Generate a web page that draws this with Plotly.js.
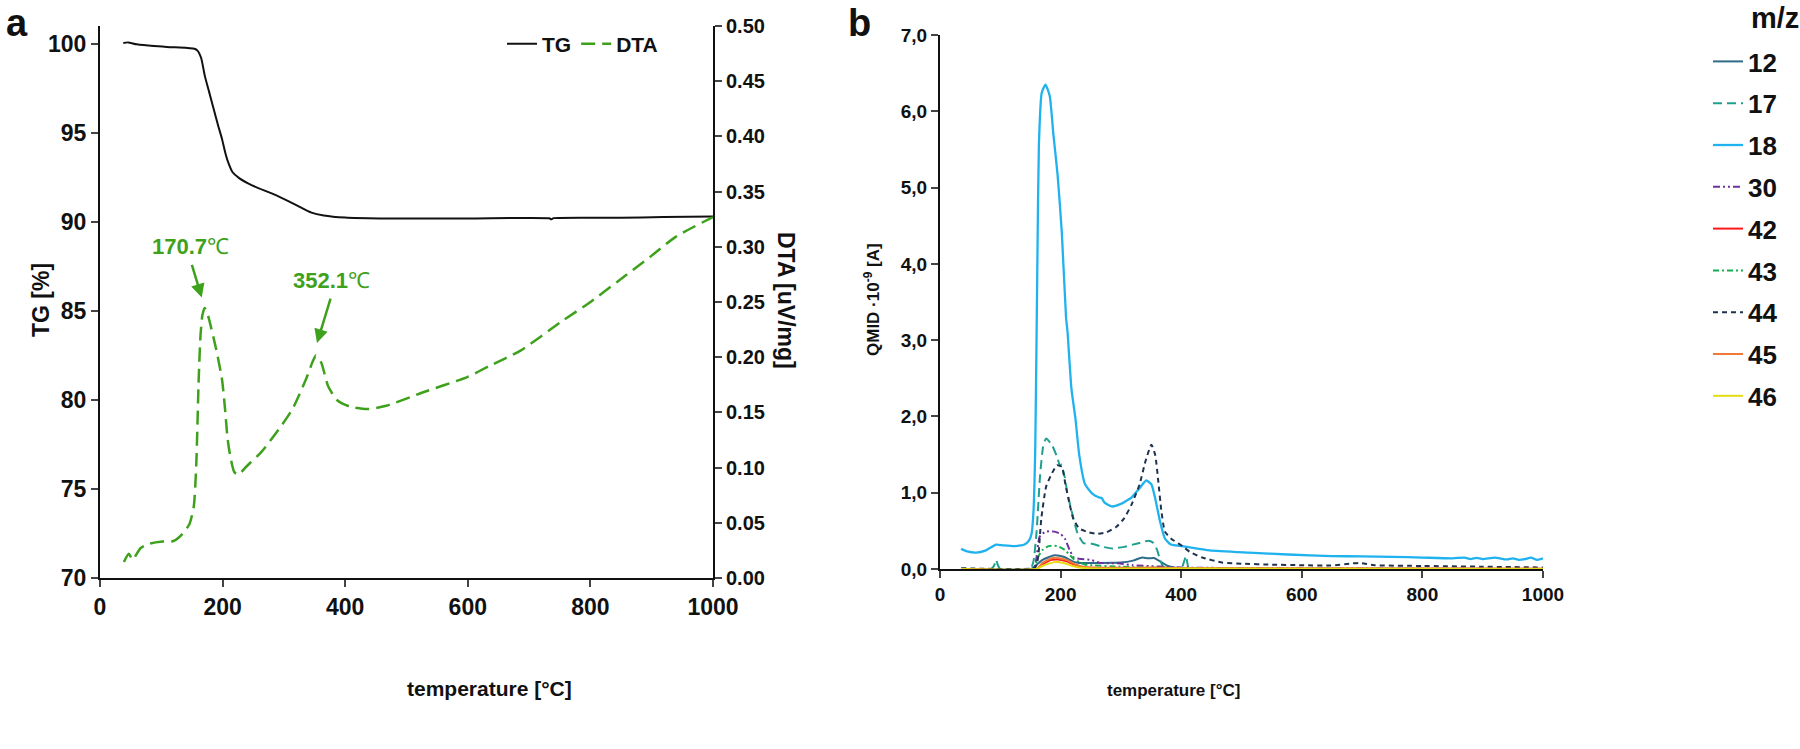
<!DOCTYPE html>
<html>
<head>
<meta charset="utf-8">
<script src="https://cdn.plot.ly/plotly-3.0.1.min.js"></script>
<style>html,body{margin:0;padding:0;background:#fff;}#chart{width:1800px;height:749px;}</style>
</head>
<body>
<div id="chart"></div>
<script>
// ---------- Panel a: TG ----------
const tgTemp = [38, 46, 60, 88, 123, 154, 159, 165, 171, 178, 185, 192, 199, 205, 209, 216, 227, 248, 282, 317, 345, 365, 400, 456, 600, 733, 736, 740, 850, 919, 1000];
const tgValue = [100.05, 100.08, 99.97, 99.87, 99.8, 99.72, 99.62, 99.2, 98.2, 97.3, 96.4, 95.5, 94.66, 93.8, 93.35, 92.8, 92.46, 92.05, 91.57, 91.0, 90.52, 90.36, 90.24, 90.19, 90.19, 90.2, 90.15, 90.21, 90.23, 90.27, 90.3];

// ---------- Panel a: DTA ----------
const dtaTemp = [39, 47, 53, 66, 80, 102, 120, 133, 146, 153, 157, 161, 164, 167, 170.7, 175, 179, 190, 199, 204, 208, 212, 219, 226, 237, 263, 292, 314, 336, 347, 352.1, 361, 372, 387, 409, 438, 467, 526, 599, 635, 686, 752, 800, 843, 900, 939, 1000];
const dtaValue = [0.0145, 0.022, 0.0165, 0.027, 0.031, 0.033, 0.0335, 0.039, 0.049, 0.065, 0.102, 0.18, 0.22, 0.238, 0.2446, 0.24, 0.232, 0.206, 0.18, 0.153, 0.127, 0.112, 0.096, 0.0935, 0.1, 0.114, 0.135, 0.153, 0.18, 0.196, 0.2016, 0.195, 0.174, 0.161, 0.155, 0.153, 0.156, 0.168, 0.182, 0.192, 0.206, 0.232, 0.25, 0.268, 0.292, 0.309, 0.327];

const peakLabels = ["170.7", "352.1"];

// ---------- Panel b: QMID ----------
const mz = ["12", "17", "18", "30", "42", "43", "44", "45", "46"];

const t18 = [35, 45, 60, 75, 93, 105, 124, 140, 148, 152, 155, 158, 161.5, 164, 168.6, 175, 182, 188, 195, 202, 209, 211.5, 218, 224.5, 231, 240.6, 253.6, 263, 268, 273, 284.6, 299, 318, 331, 342, 350.6, 357, 365, 373, 383, 402, 447, 512, 577, 650, 700, 750, 800, 850, 870, 880, 890, 900, 920, 940, 950, 960, 970, 980, 990, 1000];
const v18 = [0.264, 0.23, 0.215, 0.24, 0.32, 0.31, 0.30, 0.32, 0.38, 0.47, 0.75, 1.6, 4.03, 5.56, 6.24, 6.35, 6.2, 5.7, 5.17, 4.41, 3.3, 3.11, 2.36, 1.98, 1.49, 1.11, 0.98, 0.94, 0.93, 0.87, 0.82, 0.85, 0.94, 1.06, 1.16, 1.11, 0.92, 0.62, 0.40, 0.32, 0.30, 0.245, 0.215, 0.19, 0.17, 0.165, 0.16, 0.15, 0.14, 0.15, 0.13, 0.145, 0.13, 0.15, 0.125, 0.14, 0.12, 0.13, 0.15, 0.12, 0.14];

const t17 = [35, 85, 90, 93, 96, 100, 150, 155, 160, 166, 171, 176, 186, 195, 199, 201, 203, 207, 211, 218, 228, 238, 252, 270, 286, 305, 320, 331, 339, 346, 354, 360, 365, 370, 380, 400, 404, 408, 412, 420, 1000];
const v17 = [0.0, 0.0, 0.05, 0.12, 0.05, 0.0, 0.0, 0.1, 0.47, 1.23, 1.6, 1.71, 1.62, 1.45, 1.35, 1.37, 1.32, 1.2, 1.0, 0.77, 0.47, 0.34, 0.33, 0.29, 0.27, 0.29, 0.32, 0.34, 0.36, 0.37, 0.34, 0.25, 0.12, 0.03, 0.01, 0.0, 0.08, 0.17, 0.02, 0.0, 0.0];

const t44 = [35, 155, 160, 163, 168, 176, 186, 194, 202, 208, 215, 221, 231, 247, 260, 276, 292, 305, 318, 331, 341, 350.6, 357, 362, 367, 373, 383, 402, 415, 435, 469, 500, 551, 600, 648, 680, 695, 720, 800, 900, 1000];
const v44 = [0.01, 0.01, 0.05, 0.17, 0.66, 1.08, 1.26, 1.36, 1.34, 1.11, 0.85, 0.66, 0.53, 0.48, 0.46, 0.48, 0.55, 0.66, 0.85, 1.11, 1.42, 1.63, 1.49, 1.15, 0.77, 0.49, 0.40, 0.30, 0.22, 0.15, 0.083, 0.07, 0.057, 0.05, 0.045, 0.07, 0.08, 0.05, 0.04, 0.03, 0.02];

const t30 = [35, 155, 160, 165, 175, 190, 200, 207, 215, 222, 235, 250, 265, 295, 320, 400, 1000];
const v30 = [0.0, 0.0, 0.15, 0.42, 0.49, 0.49, 0.46, 0.40, 0.25, 0.15, 0.13, 0.12, 0.08, 0.075, 0.05, 0.02, 0.0];

const t43 = [35, 155, 162, 170, 180, 195, 207, 222, 240, 300, 400, 1000];
const v43 = [0.0, 0.0, 0.15, 0.25, 0.30, 0.30, 0.25, 0.13, 0.06, 0.03, 0.01, 0.0];

const t12 = [35, 150, 155, 170, 190, 205, 220, 230, 260, 300, 320, 335, 345, 355, 365, 378, 395, 1000];
const v12 = [0.0, 0.0, 0.02, 0.12, 0.18, 0.16, 0.10, 0.08, 0.08, 0.085, 0.11, 0.15, 0.14, 0.145, 0.10, 0.04, 0.01, 0.0];

const t42 = [35, 160, 170, 185, 195, 210, 225, 240, 300, 400, 1000];
const v42 = [0.0, 0.0, 0.06, 0.12, 0.125, 0.10, 0.05, 0.02, 0.01, 0.005, 0.0];

const t45 = [35, 160, 170, 185, 195, 210, 225, 240, 300, 350, 400, 1000];
const v45 = [0.0, 0.0, 0.08, 0.14, 0.145, 0.12, 0.06, 0.025, 0.015, 0.02, 0.01, 0.005];

const t46 = [35, 160, 170, 190, 205, 220, 240, 400, 1000];
const v46 = [0.0, 0.0, 0.04, 0.09, 0.08, 0.04, 0.01, 0.005, 0.0];

const qTicks = [0, 1, 2, 3, 4, 5, 6, 7];
const qTickText = ["0,0", "1,0", "2,0", "3,0", "4,0", "5,0", "6,0", "7,0"];
const xTicks = [0, 200, 400, 600, 800, 1000];

// ---------- styles ----------
const narrow = "Liberation Sans Narrow, Arial Narrow, sans-serif";
const sans = "Liberation Sans, Arial, sans-serif";
const green = "#3EA11B";

const bSeries = [
  {x: t12, y: v12, name: mz[0], color: "#2F6B8A", dash: "solid", w: 2},
  {x: t17, y: v17, name: mz[1], color: "#1FA08F", dash: "9px,5px", w: 2},
  {x: t18, y: v18, name: mz[2], color: "#20B2EE", dash: "solid", w: 2.3},
  {x: t30, y: v30, name: mz[3], color: "#7030A0", dash: "7px,3px,2px,3px,2px,3px", w: 2},
  {x: t42, y: v42, name: mz[4], color: "#FF1A1A", dash: "solid", w: 2},
  {x: t43, y: v43, name: mz[5], color: "#12B04A", dash: "6px,3px,2px,3px", w: 2},
  {x: t44, y: v44, name: mz[6], color: "#1E3350", dash: "5px,4px", w: 2},
  {x: t45, y: v45, name: mz[7], color: "#F07838", dash: "solid", w: 2},
  {x: t46, y: v46, name: mz[8], color: "#E3DC10", dash: "solid", w: 2}
];

const traces = [
  {x: tgTemp, y: tgValue, name: "TG", type: "scatter", mode: "lines", xaxis: "x", yaxis: "y",
   line: {color: "#111", width: 2, shape: "spline", smoothing: 0.6}, legend: "legend"},
  {x: dtaTemp, y: dtaValue, name: "DTA", type: "scatter", mode: "lines", xaxis: "x", yaxis: "y2",
   line: {color: green, width: 2.5, dash: "14px,7px", shape: "spline", smoothing: 0.6}, legend: "legend"}
];
bSeries.forEach((s, i) => {
  traces.push({x: s.x, y: s.y, name: s.name, type: "scatter", mode: "lines", xaxis: "x2", yaxis: "y3",
    line: {color: s.color, width: s.w, dash: s.dash, shape: "spline", smoothing: 0.5},
    legend: "legend2", legendgroup: "g" + i});
});

const tickFontA = {family: narrow, size: 23, color: "#111", weight: "bold"};
const tickFontDTA = {family: sans, size: 20, color: "#111", weight: "bold"};
const tickFontB = {family: narrow, size: 19, color: "#111", weight: "bold"};

const layout = {
  width: 1800, height: 749,
  margin: {l: 0, r: 0, t: 0, b: 0},
  paper_bgcolor: "#fff", plot_bgcolor: "#fff",
  showlegend: true,
  xaxis: {domain: [100/1800, 713/1800], range: [0, 1000], tickvals: xTicks, ticks: "outside", ticklen: 7, tickwidth: 2,
          showline: true, linecolor: "#111", linewidth: 2, showgrid: false, zeroline: false, tickfont: tickFontA, anchor: "y"},
  yaxis: {domain: [171/749, 723/749], range: [70, 101], tickvals: [70, 75, 80, 85, 90, 95, 100], ticks: "outside", ticklen: 7, tickwidth: 2,
          showline: true, linecolor: "#111", linewidth: 2, showgrid: false, zeroline: false, tickfont: tickFontA, anchor: "x"},
  yaxis2: {overlaying: "y", side: "right", anchor: "x", range: [0, 0.5], dtick: 0.05, tick0: 0, tickformat: ".2f", ticks: "outside", ticklen: 7, tickwidth: 2,
           showline: true, linecolor: "#111", linewidth: 2, showgrid: false, zeroline: false, tickfont: tickFontDTA},
  xaxis2: {domain: [940/1800, 1543/1800], range: [0, 1000], tickvals: xTicks, ticks: "outside", ticklen: 7, tickwidth: 2,
           showline: true, linecolor: "#111", linewidth: 2, showgrid: false, zeroline: false, tickfont: tickFontB, anchor: "y3"},
  yaxis3: {domain: [180/749, 714/749], range: [0, 7], tickvals: qTicks, ticktext: qTickText, ticks: "outside", ticklen: 7, tickwidth: 2,
           showline: true, linecolor: "#111", linewidth: 2, showgrid: false, zeroline: false, tickfont: tickFontB, anchor: "x2"},
  legend: {orientation: "h", x: 663/1800, xanchor: "right", y: 1 - 44/749, yanchor: "middle",
           font: {family: sans, size: 21, color: "#111", weight: "bold"}, bgcolor: "rgba(0,0,0,0)", itemwidth: 30, traceorder: "normal"},
  legend2: {orientation: "v", x: 1708/1800, xanchor: "left", y: 1 - 38/749, yanchor: "top", tracegroupgap: 5,
            font: {family: sans, size: 26, color: "#111", weight: "bold"}, bgcolor: "rgba(0,0,0,0)", traceorder: "grouped", itemwidth: 30},
  annotations: [
    {text: "<b>a</b>", xref: "paper", yref: "paper", x: 4/1800, y: 1 - 0/749, xanchor: "left", yanchor: "top", showarrow: false,
     font: {family: sans, size: 38, color: "#111"}},
    {text: "<b>b</b>", xref: "paper", yref: "paper", x: 846/1800, y: 1 - 0/749, xanchor: "left", yanchor: "top", showarrow: false,
     font: {family: sans, size: 38, color: "#111"}},
    {text: "<b>m/z</b>", xref: "paper", yref: "paper", x: 1775/1800, y: 1 - 18/749, xanchor: "center", yanchor: "middle", showarrow: false,
     font: {family: sans, size: 29, color: "#111"}},
    {text: "<b>TG [%]</b>", xref: "paper", yref: "paper", x: 26/1800, y: 1 - 300/749, textangle: -90, showarrow: false,
     font: {family: sans, size: 23, color: "#111"}},
    {text: "<b>DTA [uV/mg]</b>", xref: "paper", yref: "paper", x: 786/1800, y: 1 - 300/749, textangle: 90, showarrow: false,
     font: {family: sans, size: 23, color: "#111"}},
    {text: "<b>temperature [°C]</b>", xref: "paper", yref: "paper", x: 405/1800, y: 1 - 702/749, showarrow: false,
     font: {family: narrow, size: 21, color: "#111"}},
    {text: "<b>temperature [°C]</b>", xref: "paper", yref: "paper", x: 1242/1800, y: 1 - 702/749, showarrow: false,
     font: {family: sans, size: 17, color: "#111"}},
    {text: "<b>QMID ·10<sup>-9</sup> [A]</b>", xref: "paper", yref: "paper", x: 872/1800, y: 1 - 300/749, textangle: -90, showarrow: false,
     font: {family: sans, size: 17, color: "#111"}},
    // peak labels with arrows (text box sits above the arrow tail)
    {text: "<b>" + peakLabels[0] + "</b>℃", xref: "x", yref: "y", x: 166, y: 85.75, axref: "x", ayref: "y", ax: 148, ay: 87.8,
     xanchor: "center", yanchor: "bottom", showarrow: true, startstandoff: 4,
     arrowhead: 2, arrowsize: 1.1, arrowwidth: 2.5, arrowcolor: green, font: {family: sans, size: 22, color: green}},
    {text: "<b>" + peakLabels[1] + "</b>℃", xref: "x", yref: "y", x: 354, y: 83.2, axref: "x", ayref: "y", ax: 378, ay: 85.9,
     xanchor: "center", yanchor: "bottom", showarrow: true, startstandoff: 4,
     arrowhead: 2, arrowsize: 1.1, arrowwidth: 2.5, arrowcolor: green, font: {family: sans, size: 22, color: green}}
  ]
};

Plotly.newPlot("chart", traces, layout, {displayModeBar: false, staticPlot: true});
</script>
</body>
</html>
